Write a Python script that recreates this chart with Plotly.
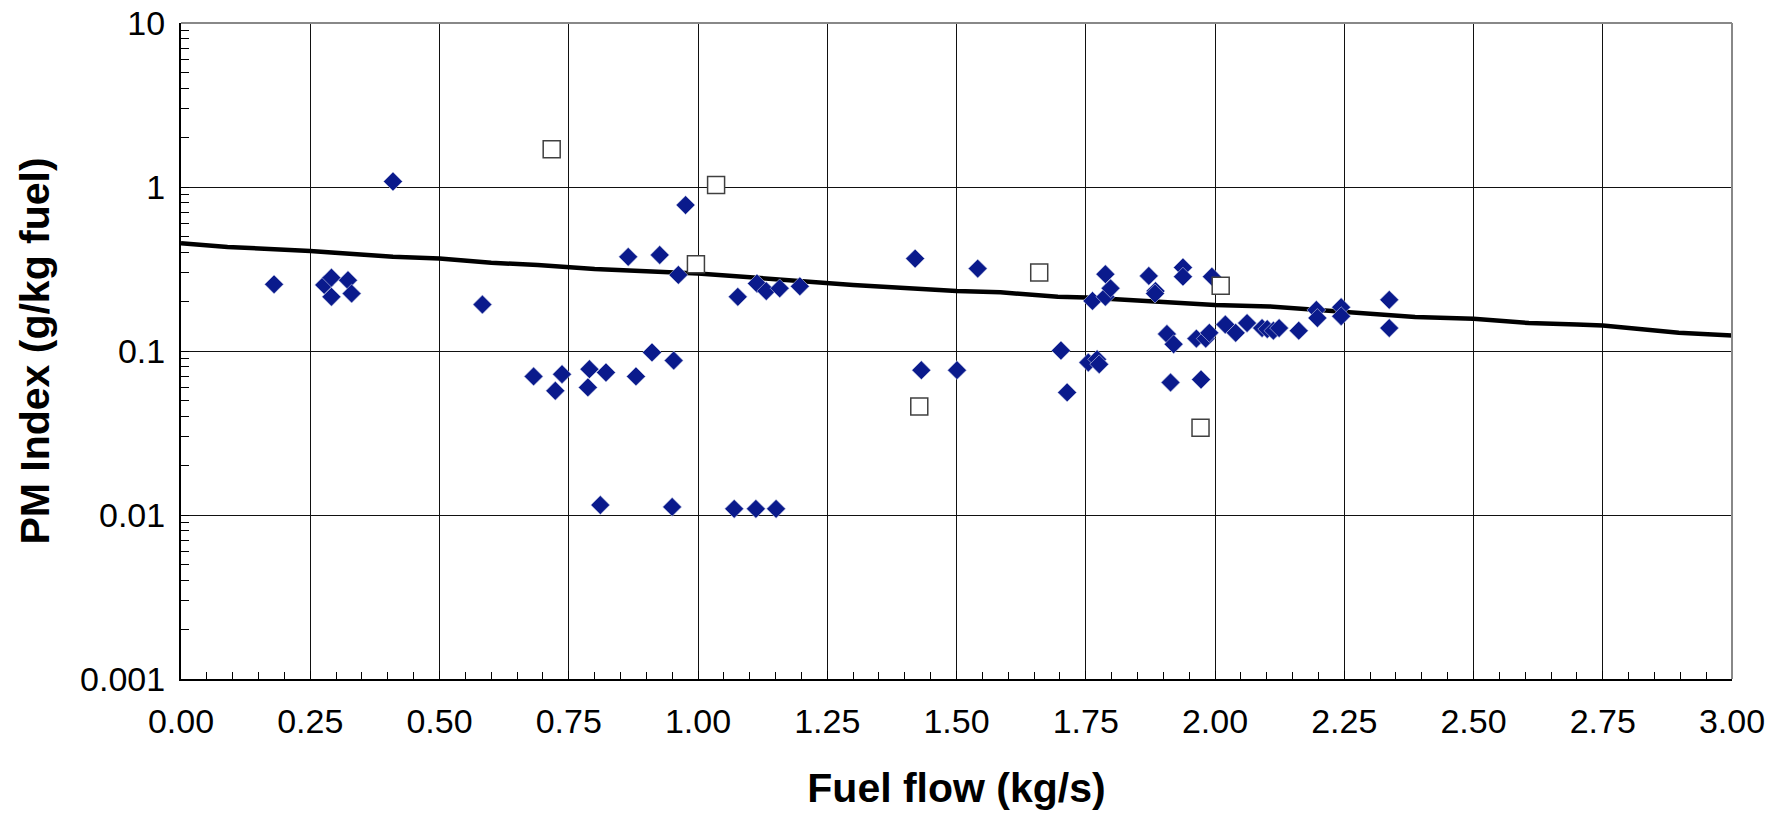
import plotly.graph_objects as go

# Diamond series (measured)
dia_x = [0.18, 0.277, 0.291, 0.291, 0.323, 0.330, 0.41, 0.583, 0.682, 0.724, 0.737, 0.787, 0.790,
         0.822, 0.880, 0.911, 0.953, 0.865, 0.926, 0.976, 0.962, 1.077, 1.114, 1.132, 1.158, 1.197,
         1.420, 1.432, 1.501, 1.541, 1.702, 1.714, 1.755, 1.772, 1.776, 1.763, 1.788, 1.788, 1.798,
         1.872, 1.885, 1.884, 1.907, 1.920, 1.914, 1.938, 1.938, 1.994, 1.964, 1.982, 1.989, 1.973,
         2.020, 2.040, 2.062, 2.091, 2.101, 2.113, 2.124, 2.162, 2.196, 2.198, 2.244, 2.244, 2.337,
         2.337, 0.811, 0.950, 1.070, 1.112, 1.151]
dia_y = [0.255, 0.253, 0.280, 0.214, 0.270, 0.224, 1.08, 0.192, 0.070, 0.0572, 0.0722, 0.060, 0.0775,
         0.074, 0.070, 0.098, 0.0875, 0.375, 0.385, 0.776, 0.291, 0.214, 0.258, 0.232, 0.241, 0.248,
         0.366, 0.0764, 0.0764, 0.318, 0.1007, 0.0559, 0.0851, 0.089, 0.083, 0.202, 0.294, 0.214, 0.241,
         0.287, 0.232, 0.224, 0.127, 0.110, 0.0643, 0.323, 0.284, 0.284, 0.119, 0.119, 0.129, 0.067,
         0.145, 0.129, 0.148, 0.138, 0.136, 0.133, 0.138, 0.133, 0.178, 0.159, 0.185, 0.163, 0.205,
         0.138, 0.0115, 0.0112, 0.0109, 0.0109, 0.0109]

# Open-square series (measured)
sq_x = [0.717, 1.035, 0.996, 1.428, 1.660, 2.011, 1.972]
sq_y = [1.70, 1.03, 0.338, 0.0459, 0.301, 0.250, 0.034]

# Trend line
line_x = [0.0, 0.09, 0.25, 0.41, 0.5, 0.6, 0.69, 0.80, 1.0, 1.25, 1.30, 1.5, 1.585, 1.696, 1.75,
          1.892, 2.0, 2.105, 2.25, 2.387, 2.5, 2.607, 2.7, 2.75, 2.897, 3.0, 3.025]
line_y = [0.454, 0.431, 0.407, 0.375, 0.366, 0.345, 0.335, 0.316, 0.297, 0.261, 0.253, 0.232, 0.228,
          0.214, 0.212, 0.200, 0.191, 0.187, 0.174, 0.161, 0.157, 0.148, 0.145, 0.143, 0.129, 0.124,
          0.123]

y_tickvals = [0.001, 0.01, 0.1, 1, 10]
y_ticktext = ["0.001", "0.01", "0.1", "1", "10"]
y_minor = [m * 10 ** e for e in range(-3, 1) for m in range(2, 10)]

FONT = "Liberation Sans, Arial, sans-serif"
TICK_SIZE = 34

fig = go.Figure()
fig.add_trace(go.Scatter(x=line_x, y=line_y, mode="lines",
                         line=dict(color="black", width=4.5), showlegend=False, hoverinfo="skip"))
fig.add_trace(go.Scatter(x=dia_x, y=dia_y, mode="markers",
                         marker=dict(symbol="diamond", size=14.5, color="#0a1a8c",
                                     line=dict(width=0.6, color="#c8cce8")),
                         showlegend=False))
fig.add_trace(go.Scatter(x=sq_x, y=sq_y, mode="markers",
                         marker=dict(symbol="square", size=17, color="white",
                                     line=dict(width=1.5, color="#404040")),
                         showlegend=False))

fig.update_layout(
    width=1775, height=814, autosize=False,
    margin=dict(l=181, r=43, t=23, b=135),
    paper_bgcolor="white", plot_bgcolor="white",
    font=dict(family=FONT, color="black", size=TICK_SIZE),
    xaxis=dict(
        range=[0, 3], dtick=0.25, tick0=0, tickformat=".2f", automargin=False,
        showgrid=True, gridcolor="#111", gridwidth=1,
        zeroline=False, showline=True, linecolor="black", linewidth=2,
        mirror=False, ticks="inside", ticklen=8, tickcolor="black", tickwidth=1,
        minor=dict(dtick=0.05, ticks="inside", ticklen=7, tickcolor="black", tickwidth=1, showgrid=False),
        tickfont=dict(size=TICK_SIZE, family=FONT), ticklabelstandoff=11,
        title=dict(text="<b>Fuel flow (kg/s)</b>", font=dict(size=41, family=FONT), standoff=35),
    ),
    yaxis=dict(
        type="log", range=[-3, 1], tickvals=y_tickvals, ticktext=y_ticktext, automargin=False,
        showgrid=True, gridcolor="#111", gridwidth=1,
        zeroline=False, showline=True, linecolor="black", linewidth=2,
        ticks="inside", ticklen=8, tickcolor="black", tickwidth=1,
        minor=dict(tickvals=y_minor, ticks="inside", ticklen=8, tickcolor="black", tickwidth=1, showgrid=False),
        tickfont=dict(size=TICK_SIZE, family=FONT), ticklabelstandoff=7,
        title=dict(text="<b>PM Index (g/kg fuel)</b>", font=dict(size=41, family=FONT), standoff=18),
    ),
    shapes=[
        dict(type="line", xref="paper", yref="paper", x0=0, x1=1, y0=1, y1=1,
             line=dict(color="#888", width=2)),
        dict(type="line", xref="paper", yref="paper", x0=1, x1=1, y0=0, y1=1,
             line=dict(color="#888", width=2)),
    ],
)

fig.write_html("out.html", config={"displayModeBar": False},
               post_script="document.body.style.margin='0';document.body.style.overflow='hidden';")
